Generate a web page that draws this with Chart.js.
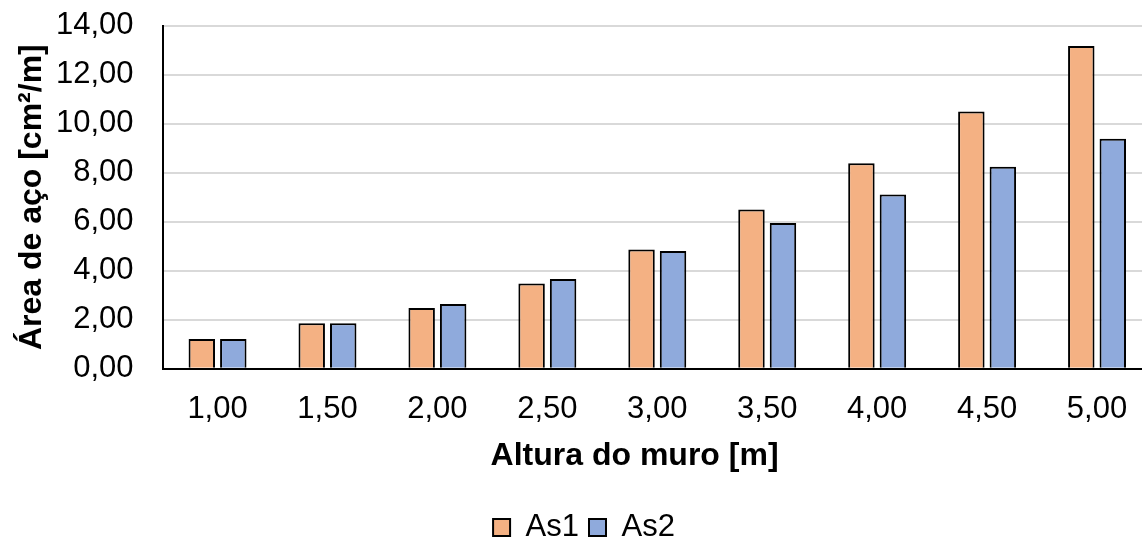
<!DOCTYPE html>
<html>
<head>
<meta charset="utf-8">
<script src="https://cdn.jsdelivr.net/npm/chart.js@4/dist/chart.umd.min.js"></script>
<style>
  html, body { margin: 0; padding: 0; background: #fff; overflow: hidden; }
  #wrap { position: relative; width: 1152px; height: 546px; margin-top: -5px; }
</style>
</head>
<body>
<div id="wrap"><canvas id="chart"></canvas></div>
<script>
// Wall height categories and reinforcement areas
const alturas = ['1,00', '1,50', '2,00', '2,50', '3,00', '3,50', '4,00', '4,50', '5,00'];
const as1 = [1.22, 1.86, 2.48, 3.48, 4.87, 6.50, 8.38, 10.49, 13.17];
const as2 = [1.22, 1.86, 2.64, 3.66, 4.80, 5.95, 7.11, 8.24, 9.38];
const yTicks = [0, 2, 4, 6, 8, 10, 12, 14];

const FONT = "'Liberation Sans', Arial, sans-serif";
const xTitle = 'Altura do muro [m]';
const yTitle = 'Área de aço [cm²/m]';

// Draws the horizontal axis title in the space reserved under the tick labels
const xTitlePlugin = {
  id: 'xTitle',
  afterDraw(chart) {
    const ctx = chart.ctx;
    const area = chart.chartArea;
    ctx.save();
    ctx.font = 'bold 32px ' + FONT;
    ctx.fillStyle = '#000';
    ctx.textAlign = 'center';
    ctx.textBaseline = 'alphabetic';
    ctx.fillText(xTitle, area.left + 472, area.bottom + 96);
    ctx.restore();
  }
};

new Chart(document.getElementById('chart'), {
  type: 'bar',
  data: {
    labels: alturas,
    datasets: [
      { label: 'As1', data: as1, backgroundColor: '#f4b183', borderColor: '#000', borderWidth: 2 },
      { label: 'As2', data: as2, backgroundColor: '#8faadc', borderColor: '#000', borderWidth: 2 }
    ]
  },
  options: {
    responsive: true,
    maintainAspectRatio: false,
    animation: false,
    categoryPercentage: 0.573,
    barPercentage: 0.84,
    layout: { padding: { top: 0, left: 16, right: 0, bottom: -12 } },
    plugins: {
      tooltip: { enabled: false },
      legend: {
        position: 'bottom',
        labels: {
          font: { family: FONT, size: 31 },
          color: '#000',
          boxWidth: 17,
          boxHeight: 17,
          padding: 10
        }
      }
    },
    scales: {
      x: {
        grid: { display: false, drawTicks: false },
        border: { display: true, color: '#000', width: 2 },
        ticks: { font: { family: FONT, size: 31 }, color: '#000', padding: 22 },
        afterFit(scale) { scale.height += 52; }
      },
      y: {
        min: 0,
        max: 14,
        afterBuildTicks(scale) { scale.ticks = yTicks.map(v => ({ value: v })); },
        afterFit(scale) { scale.width -= 21; },
        grid: { color: '#d9d9d9', lineWidth: 2, drawTicks: false },
        border: { display: true, color: '#000', width: 2 },
        ticks: {
          font: { family: FONT, size: 31, lineHeight: 0.1 },
          color: '#000',
          padding: 29,
          callback: v => v.toFixed(2).replace('.', ',')
        },
        title: {
          display: true,
          text: yTitle,
          font: { family: FONT, size: 32, weight: 'bold', lineHeight: 1 },
          color: '#000',
          padding: 0
        }
      }
    }
  },
  plugins: [xTitlePlugin]
});
</script>
</body>
</html>
